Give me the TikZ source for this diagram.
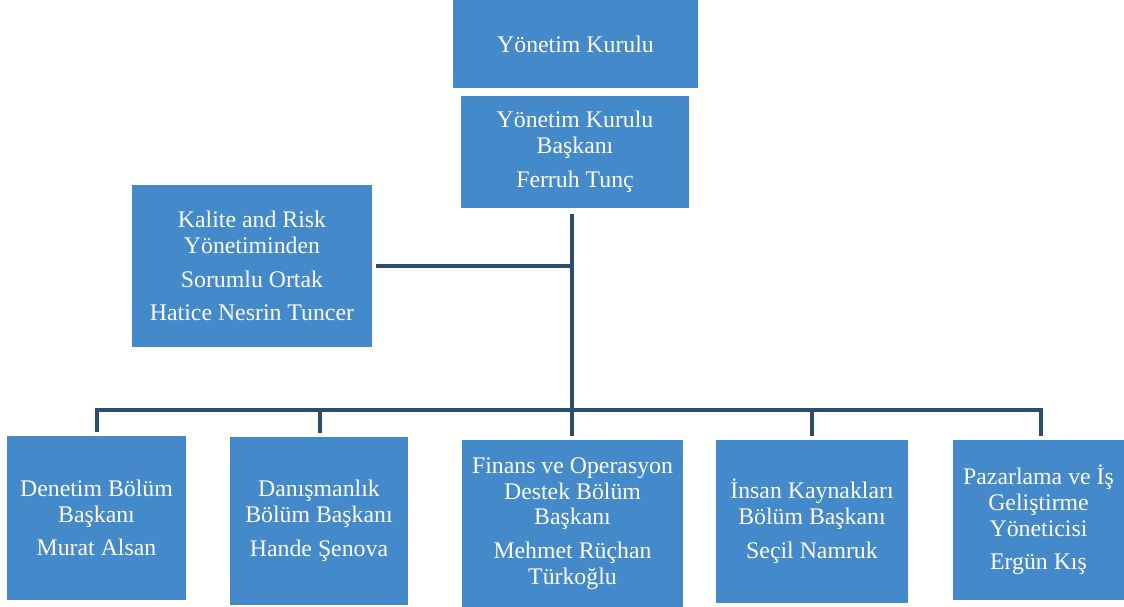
\documentclass[tikz,border=0pt]{standalone}
\usepackage{fontspec}
\setmainfont{Liberation Serif}
\definecolor{boxblue}{RGB}{68,137,201}
\definecolor{linecol}{RGB}{44,78,110}
\begin{document}
\begin{tikzpicture}[x=1pt,y=-1pt,
  orgbox/.style={fill=boxblue,draw=none,text=white,align=center,inner sep=0pt,
    font=\fontsize{23.8}{25.8}\selectfont},
  conn/.style={draw=linecol,line width=4pt}]
\useasboundingbox (0,0) rectangle (1124,607);
\node[orgbox,minimum width=245pt,minimum height=88pt] (yk) at (575.5,44) {Yönetim Kurulu};
\node[orgbox,minimum width=228pt,minimum height=111pt] (ykb) at (575,152) {Yönetim Kurulu\\Başkanı\\[8pt]Ferruh Tunç};
\node[orgbox,minimum width=240pt,minimum height=162pt] (kal) at (252,266) {Kalite and Risk\\Yönetiminden\\[8pt]Sorumlu Ortak\\[8pt]Hatice Nesrin Tuncer};
\node[orgbox,minimum width=179pt,minimum height=164pt] (b1) at (96.5,518) {Denetim Bölüm\\Başkanı\\[8pt]Murat Alsan};
\node[orgbox,minimum width=178pt,minimum height=168pt] (b2) at (319,521) {Danışmanlık\\Bölüm Başkanı\\[8pt]Hande Şenova};
\node[orgbox,minimum width=221pt,minimum height=167pt] (b3) at (572.5,523.5) {Finans ve Operasyon\\Destek Bölüm\\Başkanı\\[8pt]Mehmet Rüçhan\\Türkoğlu};
\node[orgbox,minimum width=192pt,minimum height=163pt] (b4) at (812,521.5) {İnsan Kaynakları\\Bölüm Başkanı\\[8pt]Seçil Namruk};
\node[orgbox,minimum width=171pt,minimum height=160pt] (b5) at (1038.5,520) {Pazarlama ve İş\\Geliştirme\\Yöneticisi\\[8pt]Ergün Kış};
\coordinate (top) at (572,214);
\coordinate (mid) at (572,266);
\coordinate (ke) at (376,266);
\coordinate (d1) at (97,410);
\coordinate (d2) at (320,410);
\coordinate (d3) at (572,410);
\coordinate (d4) at (812,410);
\coordinate (d5) at (1041,410);
\draw[conn] (top) -- (d3);
\draw[conn] (ke) -- (mid);
\draw[conn,line cap=rect] (d1) -- (d5);
\foreach \d/\b in {d1/b1,d2/b2,d3/b3,d4/b4,d5/b5}{
  \draw[conn] (\d) -- ([yshift=4pt]\d |- \b.north);
}
\end{tikzpicture}
\end{document}
